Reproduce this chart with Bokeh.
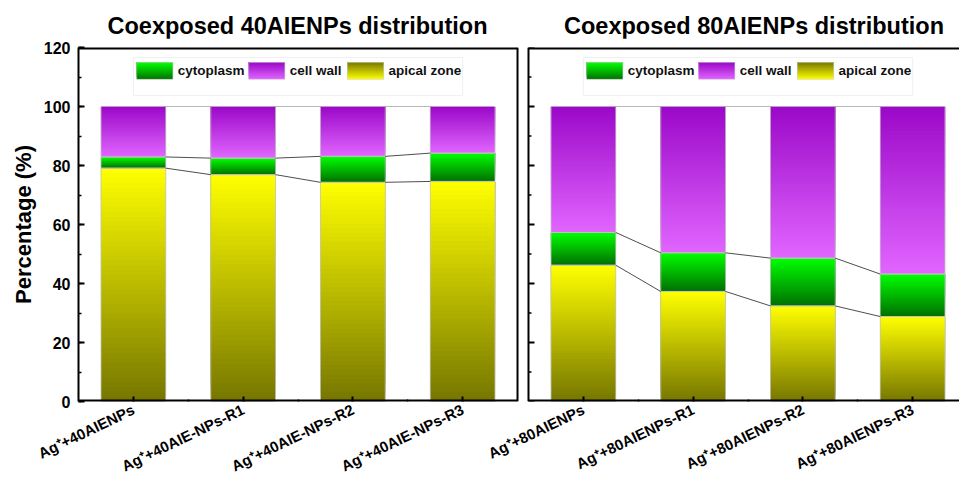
import numpy as np
from bokeh.plotting import figure
from bokeh.layouts import column
from bokeh.models import Range1d, FixedTicker, SingleIntervalTicker, CustomJSTickFormatter, Div
from bokeh.embed import file_html
from bokeh.resources import INLINE
from bokeh.core.properties import value

# ---- data -------------------------------------------------------------
titles = ["Coexposed 40AIENPs distribution", "Coexposed 80AIENPs distribution"]
labels_40 = ["Ag⁺+40AIENPs", "Ag⁺+40AIE-NPs-R1", "Ag⁺+40AIE-NPs-R2", "Ag⁺+40AIE-NPs-R3"]
labels_80 = ["Ag⁺+80AIENPs", "Ag⁺+80AIENPs-R1", "Ag⁺+80AIENPs-R2", "Ag⁺+80AIENPs-R3"]

apical_40 = [79.1, 76.9, 74.3, 74.6]
cyto_40 = [3.8, 5.6, 8.8, 9.6]
wall_40 = [17.1, 17.5, 16.9, 15.8]

apical_80 = [46.2, 37.3, 32.4, 28.8]
cyto_80 = [11.1, 13.1, 16.2, 14.4]
wall_80 = [42.7, 49.6, 51.4, 56.8]

series_names = ["cytoplasm", "cell wall", "apical zone"]
y_ticks = [0, 20, 40, 60, 80, 100, 120]

# ---- styling ----------------------------------------------------------
FONT = "Liberation Sans"
# gradient colours (bottom, top) for each compartment
GRAD = {
    "apical zone": ((118, 118, 0), (255, 255, 0)),
    "cytoplasm": ((0, 112, 0), (0, 255, 0)),
    "cell wall": ((225, 102, 255), (155, 8, 200)),
}
# legend swatches: (bottom, top)
LEG_GRAD = {
    "cytoplasm": ((0, 112, 0), (0, 255, 0)),
    "cell wall": ((225, 102, 255), (155, 8, 200)),
    "apical zone": ((255, 255, 0), (122, 122, 0)),
}
BAR_W = 0.59
N_SLICES = 48
PX_PER_UNIT = 109.75
TITLE_H = 38

panel_left = [0.5, 4.6]
centers = [[1, 2, 3, 4], [5.1, 6.1, 7.1, 8.1]]


def hexcol(c):
    return "#%02x%02x%02x" % tuple(int(round(v)) for v in c)


def gradient_quads(x0, x1, b, t, c_bot, c_top, n=N_SLICES):
    """Slices that each run up to the segment top, painted bottom-up."""
    L, R, B, T, C = [], [], [], [], []
    for k in range(n):
        f = (k + 0.5) / n
        col = [c_bot[j] + (c_top[j] - c_bot[j]) * f for j in range(3)]
        L.append(x0); R.append(x1)
        B.append(b + (t - b) * k / n); T.append(t)
        C.append(hexcol(col))
    return L, R, B, T, C


p = figure(frame_width=881, frame_height=354, output_backend="svg", toolbar_location=None,
           x_range=Range1d(0.5, 8.527), y_range=Range1d(0, 120),
           min_border_left=78, min_border_right=0, min_border_top=47 - TITLE_H,
           min_border_bottom=20)
p.outline_line_color = None
p.xgrid.visible = False
p.ygrid.visible = False
p.background_fill_color = "white"

allL, allR, allB, allT, allC = [], [], [], [], []
outline = {"l": [], "r": [], "b": [], "t": []}
conn = {"x0": [], "y0": [], "x1": [], "y1": []}
conn_top = {"x0": [], "y0": [], "x1": [], "y1": []}

data = [(apical_40, cyto_40, wall_40), (apical_80, cyto_80, wall_80)]
for pi, (ap, cy, wa) in enumerate(data):
    for i, c in enumerate(centers[pi]):
        x0, x1 = c - BAR_W / 2, c + BAR_W / 2
        base = 0.0
        for name, v in (("apical zone", ap[i]), ("cytoplasm", cy[i]), ("cell wall", wa[i])):
            cb, ct = GRAD[name]
            L, R, B, T, C = gradient_quads(x0, x1, base, base + v, cb, ct)
            allL += L; allR += R; allB += B; allT += T; allC += C
            outline["l"].append(x0); outline["r"].append(x1)
            outline["b"].append(base); outline["t"].append(base + v)
            base += v
    # connector lines between neighbouring bars
    for i in range(3):
        xa = centers[pi][i] + BAR_W / 2
        xb = centers[pi][i + 1] - BAR_W / 2
        for lvl_a, lvl_b in ((ap[i], ap[i + 1]), (ap[i] + cy[i], ap[i + 1] + cy[i + 1])):
            conn["x0"].append(xa); conn["x1"].append(xb)
            conn["y0"].append(lvl_a); conn["y1"].append(lvl_b)
        conn_top["x0"].append(xa); conn_top["x1"].append(xb)
        conn_top["y0"].append(ap[i] + cy[i] + wa[i])
        conn_top["y1"].append(ap[i + 1] + cy[i + 1] + wa[i + 1])

p.quad(left=allL, right=allR, bottom=allB, top=allT, fill_color=allC, line_color=None)
p.quad(left=outline["l"], right=outline["r"], bottom=outline["b"], top=outline["t"],
       fill_color=None, line_color="#c4c4c4", line_width=0.8)
p.segment(x0=conn["x0"], y0=conn["y0"], x1=conn["x1"], y1=conn["y1"],
          line_color="#3a3a3a", line_width=0.9)
p.segment(x0=conn_top["x0"], y0=conn_top["y0"], x1=conn_top["x1"], y1=conn_top["y1"],
          line_color="#b0b0b0", line_width=0.9)

# ---- legends (drawn inside each panel) --------------------------------
sw_off = [0.53, 1.55, 2.45]
sw_w = 0.33
sw_b, sw_t = 109.2, 114.9
for pl in panel_left:
    p.quad(left=[pl + 0.50], right=[pl + 3.50], bottom=[103.7], top=[116.6],
           fill_color="white", line_color="#f0f0f0", line_width=1)
    tx, ty, tt = [], [], []
    for name, off in zip(series_names, sw_off):
        cb, ct = LEG_GRAD[name]
        L, R, B, T, C = gradient_quads(pl + off, pl + off + sw_w, sw_b, sw_t, cb, ct, n=16)
        p.quad(left=L, right=R, bottom=B, top=T, fill_color=C, line_color=None)
        p.quad(left=[pl + off], right=[pl + off + sw_w], bottom=[sw_b], top=[sw_t],
               fill_color=None, line_color="#d0d0d0", line_width=0.6)
        tx.append(pl + off + sw_w + 0.045); ty.append((sw_b + sw_t) / 2); tt.append(name)
    p.text(x=tx, y=ty, text=tt, text_font=value(FONT), text_font_size="13.5px",
           text_font_style="bold", text_color="#111111", text_align="left",
           text_baseline="middle")

# ---- panel frames -------------------------------------------------------
p.segment(x0=[0.5, 0.5, 4.6, 4.6], y0=[120, 0, 120, 0],
          x1=[4.5, 4.5, 8.527, 8.527], y1=[120, 0, 120, 0],
          line_color="black", line_width=4)
p.segment(x0=[4.5, 4.6], y0=[0, 0], x1=[4.5, 4.6], y1=[120, 120],
          line_color="black", line_width=2)
# inward ticks on the second panel's left edge
maj_len = 6 / PX_PER_UNIT
min_len = 3 / PX_PER_UNIT
minor_vals = [v + 10 for v in y_ticks[:-1]]
p.segment(x0=[4.6] * len(y_ticks), y0=y_ticks, x1=[4.6 + maj_len] * len(y_ticks), y1=y_ticks,
          line_color="black", line_width=2)
p.segment(x0=[4.6] * len(minor_vals), y0=minor_vals, x1=[4.6 + min_len] * len(minor_vals),
          y1=minor_vals, line_color="black", line_width=1.5)

# ---- axes ---------------------------------------------------------------
yax = p.yaxis[0]
yax.ticker = SingleIntervalTicker(interval=20, num_minor_ticks=2)
yax.axis_label = "Percentage (%)"
yax.axis_label_text_font = FONT
yax.axis_label_text_font_size = "22px"
yax.axis_label_text_font_style = "bold"
yax.axis_label_text_color = "black"
yax.axis_label_standoff = 5
yax.major_label_text_font = FONT
yax.major_label_text_font_size = "16px"
yax.major_label_text_font_style = "bold"
yax.major_label_text_color = "black"
yax.major_label_standoff = 8
yax.axis_line_width = 2
yax.major_tick_in = 6
yax.major_tick_out = 0
yax.major_tick_line_width = 2
yax.minor_tick_in = 3
yax.minor_tick_out = 0
yax.minor_tick_line_width = 1.5

all_centers = centers[0] + centers[1]
all_labels = labels_40 + labels_80
xax = p.xaxis[0]
xax.ticker = FixedTicker(ticks=all_centers, minor_ticks=[1.5, 2.5, 3.5, 5.6, 6.6, 7.6])
xax.formatter = CustomJSTickFormatter(
    args=dict(pos=all_centers, names=all_labels),
    code="const i = pos.findIndex(v => Math.abs(v - tick) < 1e-6); return i >= 0 ? names[i] : '';")
xax.major_label_orientation = 0.45
xax.major_label_text_font = FONT
xax.major_label_text_font_size = "15px"
xax.major_label_text_font_style = "bold"
xax.major_label_text_color = "black"
xax.major_label_standoff = 7
xax.axis_line_color = None
xax.major_tick_in = 5
xax.major_tick_out = 0
xax.major_tick_line_width = 2
xax.minor_tick_in = 2
xax.minor_tick_out = 0
xax.minor_tick_line_width = 1.5

# ---- panel titles (HTML strip above the plot) ----------------------------
title_centers = [297.5, 754]
spans = "".join(
    f'<span style="position:absolute;left:{cx}px;top:14px;transform:translateX(-50%);'
    f'white-space:nowrap;font-family:\'{FONT}\';font-weight:bold;font-size:23.5px;'
    f'line-height:24px;color:black;">{t}</span>'
    for cx, t in zip(title_centers, titles))
header = Div(text=f'<div style="position:relative;width:959px;height:{TITLE_H}px;">{spans}</div>',
             width=959, height=TITLE_H, margin=0)

layout = column(header, p, spacing=0)
open("out.html", "w").write(file_html(layout, INLINE))
